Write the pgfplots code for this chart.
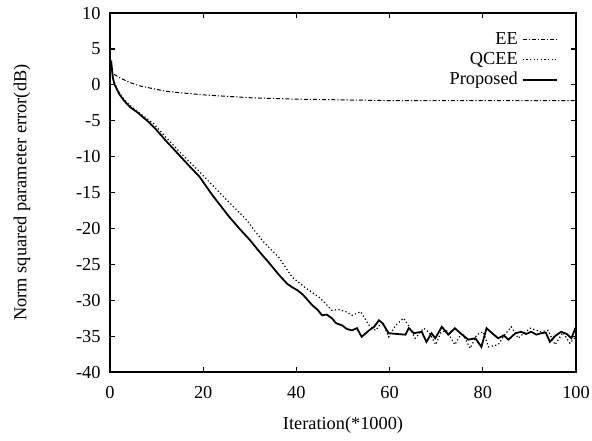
\documentclass[border=0pt]{standalone}
\usepackage{fontspec}
\setmainfont{Liberation Serif}
\usepackage{pgfplots}
\pgfplotsset{compat=1.18}

\begin{document}
\fontsize{9.2}{11}\selectfont
\begin{tikzpicture}
\path[use as bounding box] (-55bp,-34.5bp) rectangle (241bp,186bp);
\begin{axis}[
    at={(0,0)}, anchor=south west,
    scale only axis,
    width=233bp, height=179.5bp,
    xmin=0, xmax=100, ymin=-40, ymax=10,
    xtick={0,20,40,60,80,100},
    ytick={-40,-35,-30,-25,-20,-15,-10,-5,0,5,10},
    /pgf/number format/assume math mode=true,
    tick align=inside,
    major tick length=2.5bp,
    axis line style={line width=0.8pt},
    tick style={line width=0.6pt, black},
    xticklabel style={yshift=-4bp},
    yticklabel style={xshift=-1.5bp},
    xlabel={Iteration(*1000)},
    ylabel={Norm squared parameter error(dB)},
    xlabel style={at={(axis description cs:0.5,0)}, anchor=center, yshift=-26.5bp},
    ylabel style={at={(axis description cs:0,0.5)}, anchor=center, xshift=0bp, yshift=44bp},
    legend style={draw=none, fill=none, at={(1,1)}, anchor=north east,
        xshift=-6bp, yshift=-5.5bp, row sep=-1.5bp},
    legend cell align=right,
    legend plot pos=right,
]
\addplot[black, line width=0.5pt, dash pattern=on 2bp off 1bp on 0.6bp off 1bp] coordinates {
(0,2.6)(0.3,2.0)(0.8,1.5)(2,1.0)(4,0.4)(6,-0.1)(9,-0.5)(12,-0.9)(15,-1.1)
(20,-1.4)(25,-1.6)(30,-1.8)(35,-1.9)(40,-2.0)(50,-2.1)(60,-2.2)(70,-2.2)
(80,-2.2)(90,-2.2)(100,-2.2)
};
\addplot[black, line width=0.6pt, dash pattern=on 0.6bp off 1.2bp] coordinates {
(0,2.8)(0.4,2.0)(0.8,0.6)(1.5,-0.6)(2.5,-1.6)(4,-2.7)(6,-3.8)(9.2,-5.3)
(12,-7.3)(15,-9.4)(19.2,-12.1)(22,-14.0)(25,-16.0)(29.3,-18.8)(31,-20.3)
(33,-21.9)(36.3,-24.1)(39.1,-26.8)(42,-28.3)(44.9,-29.6)(46,-30.3)(47.6,-31.4)
(49,-31.3)(50.6,-31.6)(52,-32.1)(53.8,-31.6)(55.6,-33.5)(57,-34.2)(58.4,-33.0)
(59.8,-35.1)(61.3,-33.5)(63,-32.5)(64,-33.5)(65.5,-35.3)(67.3,-33.9)(68.5,-34.5)
(69.9,-36.2)(71,-34.5)(72.2,-34.2)(74,-36.2)(75.5,-34.5)(77.3,-36.7)(78.7,-34.8)
(80.1,-34.4)(81.2,-36.5)(83.3,-36.2)(84.5,-35.0)(86.1,-33.7)(87.6,-35.3)
(88.8,-34.6)(90.2,-33.9)(92.5,-34.4)(94,-34.2)(95.5,-36.2)(97.2,-34.5)
(98.7,-36.0)(100,-35.0)
};
\addplot[black, line width=0.9pt] coordinates {
(0,2.5)(0.3,3.0)(0.6,1.0)(1,0)(2,-1.3)(3,-2.2)(4.3,-3.1)(6,-3.9)(8.5,-5.3)
(10,-6.3)(12,-7.8)(15,-9.9)(17,-11.3)(19.2,-12.8)(22,-15.4)(25.6,-18.4)
(28,-20.2)(30,-21.6)(32,-23.2)(34,-24.7)(36.3,-26.5)(38,-27.7)(39.1,-28.2)
(40.2,-28.6)(41.5,-29.3)(43.4,-30.7)(44.5,-31.3)(45.5,-32.1)(46.5,-32.0)
(47.6,-32.5)(48.5,-33.2)(49.8,-33.5)(50.8,-34.0)(51.9,-34.2)(53,-33.9)
(54,-35.1)(55.6,-34.2)(56.7,-33.7)(57.7,-32.8)(58.5,-33.2)(59.8,-34.6)
(61.5,-34.7)(63.4,-34.8)(64.1,-33.9)(65.2,-34.6)(66.9,-34.4)(67.9,-35.8)
(69,-34.6)(69.8,-35.3)(71.2,-33.7)(72.6,-34.8)(74,-33.9)(75.2,-34.6)
(76.9,-35.5)(78.4,-35.3)(79.7,-36.5)(80.8,-33.9)(82,-34.6)(83.3,-35.3)
(84.5,-34.9)(85.5,-35.5)(87,-34.6)(88.2,-34.4)(89.3,-34.7)(90.4,-34.4)
(91.5,-34.8)(92.5,-34.6)(93.5,-34.5)(94.4,-35.8)(95.5,-35.0)(96.8,-34.4)
(98,-34.7)(99,-35.3)(100,-33.7)
};
\legend{EE, QCEE, Proposed}
\end{axis}
\end{tikzpicture}
\end{document}
